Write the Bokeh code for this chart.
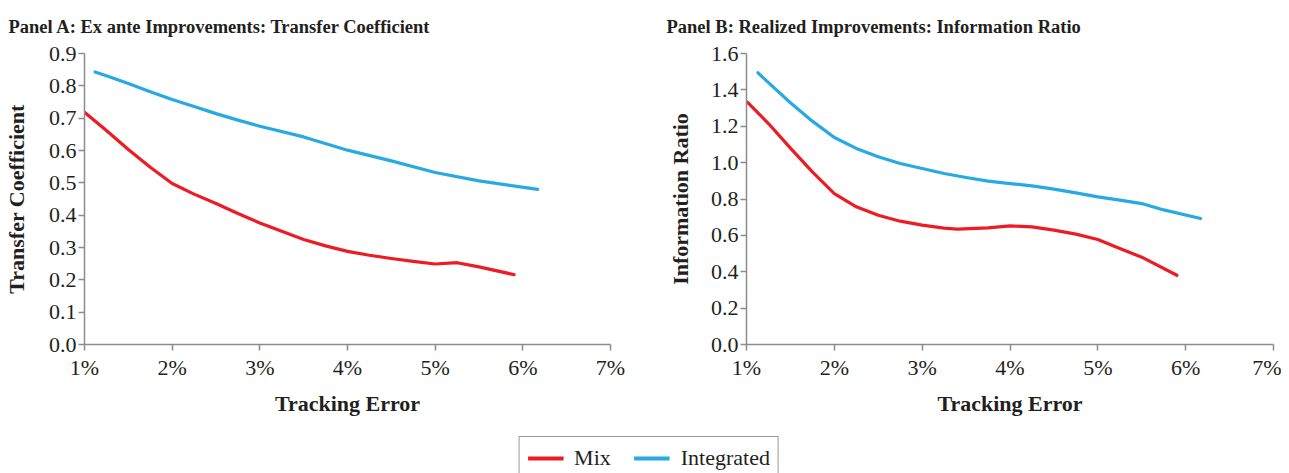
from bokeh.plotting import figure
from bokeh.layouts import column, row
from bokeh.models import FixedTicker, PrintfTickFormatter, Range1d, Legend, LegendItem
from bokeh.embed import file_html
from bokeh.resources import INLINE

# ---- data (tracking error in %) ----
te_mix_a = [1.0, 1.25, 1.5, 1.75, 2.0, 2.25, 2.5, 2.75, 3.0, 3.25, 3.5, 3.75, 4.0,
            4.25, 4.5, 4.75, 5.0, 5.25, 5.5, 5.9]
tc_mix = [0.718, 0.662, 0.603, 0.548, 0.498, 0.465, 0.436, 0.405, 0.376, 0.350, 0.325,
          0.305, 0.288, 0.276, 0.266, 0.257, 0.249, 0.253, 0.240, 0.216]
te_int_a = [1.12, 1.25, 1.5, 1.75, 2.0, 2.25, 2.5, 2.75, 3.0, 3.5, 4.0, 4.5, 5.0, 5.5, 6.17]
tc_int = [0.843, 0.831, 0.807, 0.782, 0.758, 0.736, 0.714, 0.694, 0.675, 0.642, 0.601,
          0.568, 0.532, 0.506, 0.480]

te_mix_b = [1.01, 1.25, 1.5, 1.75, 2.0, 2.25, 2.5, 2.75, 3.0, 3.25, 3.4, 3.75, 4.0,
            4.25, 4.5, 4.75, 5.0, 5.25, 5.5, 5.9]
ir_mix = [1.332, 1.215, 1.080, 0.949, 0.830, 0.757, 0.711, 0.678, 0.656, 0.640, 0.634,
          0.641, 0.652, 0.647, 0.629, 0.607, 0.577, 0.528, 0.480, 0.381]
te_int_b = [1.13, 1.25, 1.5, 1.75, 2.0, 2.25, 2.5, 2.75, 3.0, 3.25, 3.5, 3.75, 4.0,
            4.25, 4.5, 4.75, 5.0, 5.25, 5.5, 5.75, 6.17]
ir_int = [1.494, 1.440, 1.329, 1.228, 1.138, 1.078, 1.032, 0.995, 0.968, 0.940, 0.918,
          0.898, 0.885, 0.872, 0.854, 0.834, 0.812, 0.794, 0.775, 0.740, 0.693]

x_ticks = [1, 2, 3, 4, 5, 6, 7]
yticks_a = [0.0, 0.1, 0.2, 0.3, 0.4, 0.5, 0.6, 0.7, 0.8, 0.9]
yticks_b = [0.0, 0.2, 0.4, 0.6, 0.8, 1.0, 1.2, 1.4, 1.6]

RED = "#ED1C24"
BLUE = "#27AAE1"
TXT = "#231F20"
AX = "#8C8C8C"
SERIF = "Liberation Serif"


def panel(title, ylabel, ymax, yticks, width, bl, br, toff, ylab_standoff,
          xm, ym, xi, yi):
    p = figure(width=width, height=420, x_range=Range1d(1, 7), y_range=Range1d(0, ymax),
               output_backend="svg", toolbar_location=None,
               min_border_left=bl, min_border_right=br, min_border_top=53,
               min_border_bottom=76, background_fill_color="white",
               border_fill_color="white", outline_line_color=None)
    p.title.text = title
    p.title.text_font = SERIF
    p.title.text_font_style = "bold"
    p.title.text_font_size = "18.5px"
    p.title.text_color = TXT
    p.title.align = "left"
    p.title.vertical_align = "top"
    p.title.offset = toff
    p.title.standoff = 30
    p.grid.visible = False

    p.xaxis.ticker = FixedTicker(ticks=x_ticks)
    p.xaxis.formatter = PrintfTickFormatter(format="%d%%")
    p.yaxis.ticker = FixedTicker(ticks=yticks)
    p.yaxis.formatter = PrintfTickFormatter(format="%.1f")
    for ax in (p.xaxis[0], p.yaxis[0]):
        ax.axis_line_color = AX
        ax.axis_line_width = 1.5
        ax.major_tick_line_color = AX
        ax.major_tick_line_width = 1.5
        ax.major_tick_in = 0
        ax.major_tick_out = 6
        ax.minor_tick_line_color = None
        ax.major_label_text_font = SERIF
        ax.major_label_text_font_size = "22px"
        ax.major_label_text_color = TXT
        ax.axis_label_text_font = SERIF
        ax.axis_label_text_font_style = "bold"
        ax.axis_label_text_font_size = "22px"
        ax.axis_label_text_color = TXT
    p.xaxis.axis_label = "Tracking Error"
    p.xaxis.major_label_standoff = 4
    p.xaxis.axis_label_standoff = 8
    p.yaxis.axis_label = ylabel
    p.yaxis.major_label_standoff = 2
    p.yaxis.axis_label_standoff = ylab_standoff

    p.line(xm, ym, line_color=RED, line_width=3.2, line_join="round", line_cap="round")
    p.line(xi, yi, line_color=BLUE, line_width=3.2, line_join="round", line_cap="round")
    return p


pa = panel("Panel A: Ex ante Improvements: Transfer Coefficient", "Transfer Coefficient",
           0.9, yticks_a, 650, 80, 40, -76, 17, te_mix_a, tc_mix, te_int_a, tc_int)
pb = panel("Panel B: Realized Improvements: Information Ratio", "Information Ratio",
           1.6, yticks_b, 631, 96, 8, -80, 15, te_mix_b, ir_mix, te_int_b, ir_int)

# legend strip (legend-only renderers, placed outside the visible range)
pl = figure(width=1281, height=53, x_range=Range1d(0, 1), y_range=Range1d(0, 1),
            output_backend="svg", toolbar_location=None,
            min_border_left=16, min_border_right=0, min_border_top=16, min_border_bottom=0,
            x_axis_location=None, y_axis_location=None, outline_line_color=None,
            background_fill_color="white", border_fill_color="white")
pl.grid.visible = False
r_mix = pl.line(x=[5, 6], y=[5, 6], line_color=RED, line_width=4)
r_int = pl.line(x=[5, 6], y=[5, 6], line_color=BLUE, line_width=4)
leg = Legend(items=[LegendItem(label="Mix", renderers=[r_mix]),
                    LegendItem(label="Integrated", renderers=[r_int])],
             orientation="horizontal", location="top_center", margin=0,
             label_text_font=SERIF, label_text_font_size="22px", label_text_color=TXT,
             glyph_width=36, glyph_height=20, label_standoff=11, spacing=23,
             padding=8, border_line_color="#333333", border_line_width=1.2,
             background_fill_color="white", background_fill_alpha=1.0)
pl.add_layout(leg, "center")

layout = column(row(pa, pb), pl)
open("out.html", "w").write(file_html(layout, INLINE))
